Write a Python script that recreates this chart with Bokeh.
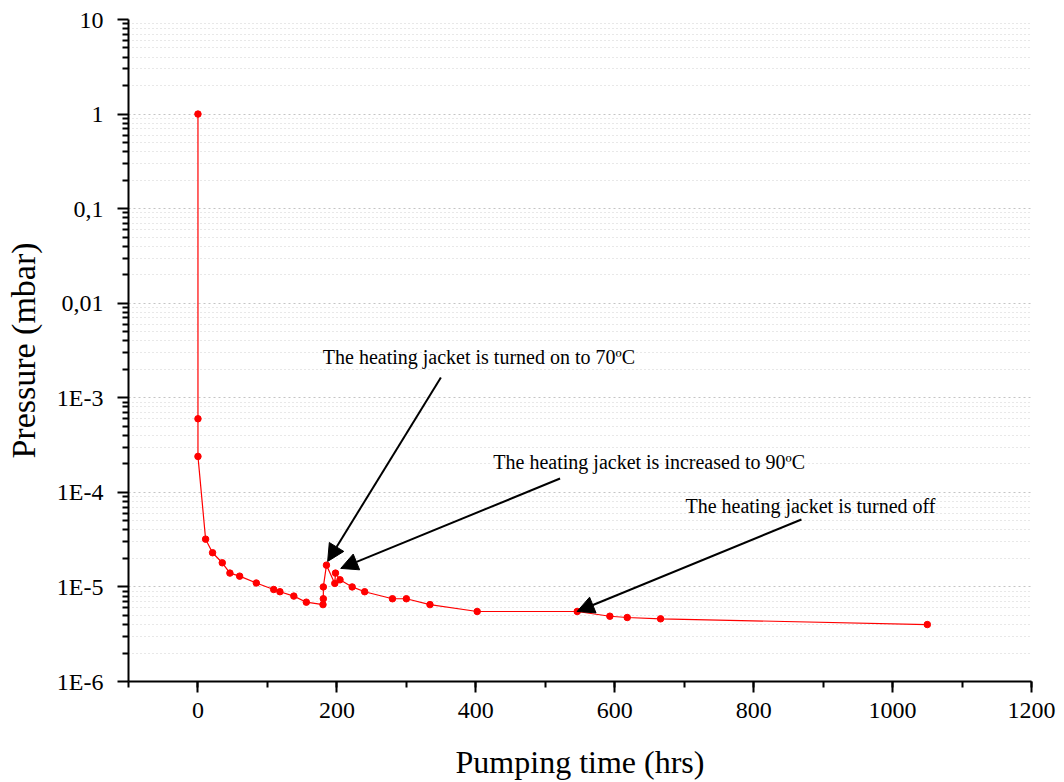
from bokeh.plotting import figure
from bokeh.models import (FixedTicker, Arrow, NormalHead, Label, ColumnDataSource,
                          SingleIntervalTicker, Range1d)
from bokeh.embed import file_html
from bokeh.resources import INLINE

# ---- data ----
time_hrs = [0, 0, 0, 11, 21, 35, 46, 60, 84, 109, 118, 138, 156, 180, 180.5, 180.5,
            185, 197, 198, 204.5, 222, 240, 280, 300, 334, 402, 546, 593, 618, 666, 1050]
pressure_mbar = [1, 6e-4, 2.4e-4, 3.2e-5, 2.3e-5, 1.8e-5, 1.4e-5, 1.3e-5, 1.1e-5, 9.4e-6,
                 8.9e-6, 8.0e-6, 6.9e-6, 6.5e-6, 7.5e-6, 1.0e-5, 1.7e-5, 1.09e-5, 1.4e-5,
                 1.19e-5, 1.0e-5, 8.9e-6, 7.5e-6, 7.5e-6, 6.5e-6, 5.5e-6, 5.5e-6, 4.9e-6,
                 4.75e-6, 4.6e-6, 4.0e-6]

y_major = [1e-6, 1e-5, 1e-4, 1e-3, 1e-2, 1e-1, 1, 10]
y_labels = ["1E-6", "1E-5", "1E-4", "1E-3", "0,01", "0,1", "1", "10"]

notes = ["The heating jacket is turned on to 70\u00baC",
         "The heating jacket is increased to 90\u00baC",
         "The heating jacket is turned off"]
note_x = [404.5, 649.6, 881.8]
note_y = [2.69e-3, 2.07e-4, 7.09e-5]
arrow_x_start = [349.7, 521.3, 868.8]
arrow_y_start = [1.64e-3, 1.40e-4, 5.17e-5]
arrow_x_end = [186.7, 205.5, 545.8]
arrow_y_end = [1.86e-5, 1.57e-5, 5.5e-6]

FONT = "Liberation Serif"

p = figure(width=1064, height=782, y_axis_type="log",
           x_range=Range1d(-100, 1200), y_range=Range1d(1e-6, 10),
           output_backend="svg", toolbar_location=None,
           min_border_left=128, min_border_right=33, min_border_top=19,
           min_border_bottom=101)
p.outline_line_color = None
p.background_fill_color = "white"
p.border_fill_color = "white"

# y minor ticks 2..9 in each decade
y_minor = []
for d in y_major[:-1]:
    for k in range(2, 10):
        y_minor.append(d * k)

yax = p.yaxis[0]
yax.ticker = FixedTicker(ticks=y_major, minor_ticks=y_minor)
yax.major_label_overrides = {v: s for v, s in zip(y_major, y_labels)}
xax = p.xaxis[0]
xax.ticker = SingleIntervalTicker(interval=200, num_minor_ticks=2)

for ax in (xax, yax):
    ax.axis_line_width = 2
    ax.axis_line_color = "black"
    ax.major_tick_line_width = 2
    ax.minor_tick_line_width = 2
    ax.major_tick_line_color = "black"
    ax.minor_tick_line_color = "black"
    ax.major_tick_out = 11
    ax.major_tick_in = 0
    ax.minor_tick_out = 6
    ax.minor_tick_in = 0
    ax.major_label_text_font = FONT
    ax.major_label_text_font_size = "24px"
    ax.major_label_text_color = "black"
    ax.axis_label_text_font = FONT
    ax.axis_label_text_font_style = "normal"
    ax.axis_label_text_color = "black"

xax.major_label_standoff = 10
yax.major_label_standoff = 14

xax.axis_label = "Pumping time (hrs)"
xax.axis_label_text_font_size = "32px"
xax.axis_label_standoff = 23
yax.axis_label = "Pressure (mbar)"
yax.axis_label_text_font_size = "34px"
yax.axis_label_standoff = 12

p.xgrid.grid_line_color = None
p.ygrid.grid_line_color = "#c4c4c4"
p.ygrid.grid_line_dash = "2 3"
p.ygrid.grid_line_width = 1
p.ygrid.minor_grid_line_color = "#d0d0d0"
p.ygrid.minor_grid_line_dash = "1 3"
p.ygrid.minor_grid_line_width = 1

src = ColumnDataSource(dict(t=time_hrs, pr=pressure_mbar))
p.line("t", "pr", source=src, line_color="#ff0000", line_width=1.2)
p.scatter("t", "pr", source=src, size=6.5, fill_color="#ff0000", line_color="#ff0000")

for i in range(len(notes)):
    p.add_layout(Arrow(end=NormalHead(size=17, fill_color="black", line_color="black"),
                       x_start=arrow_x_start[i], y_start=arrow_y_start[i],
                       x_end=arrow_x_end[i], y_end=arrow_y_end[i],
                       line_color="black", line_width=2))
    p.add_layout(Label(x=note_x[i], y=note_y[i], text=notes[i], text_align="center",
                       text_baseline="middle", text_font=FONT, text_font_size="20px",
                       text_color="black"))

open("out.html", "w").write(file_html(p, INLINE))
